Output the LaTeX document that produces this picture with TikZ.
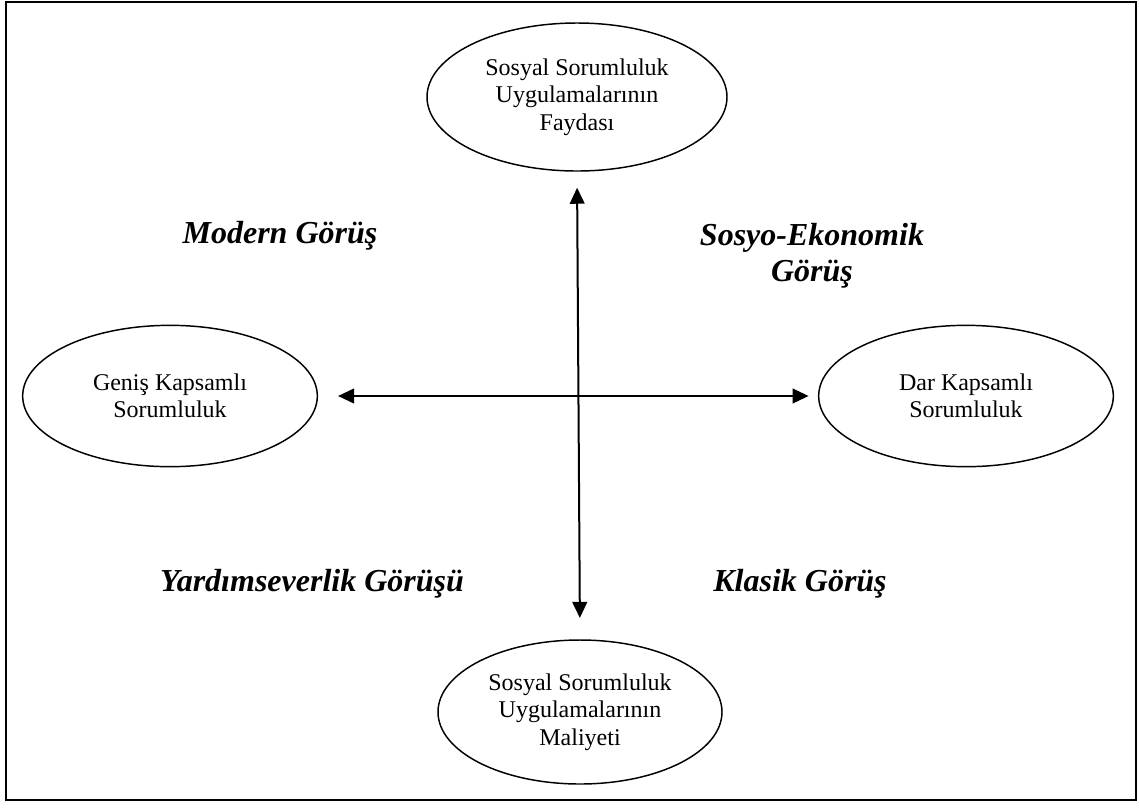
\documentclass[tikz,border=0pt]{standalone}
\usepackage{fontspec}
\setmainfont{Liberation Serif}
\usetikzlibrary{shapes.geometric,arrows.meta}
\begin{document}
\begin{tikzpicture}[x=0.75pt,y=-0.75pt,
  oval/.style={draw,ellipse,line width=1.1pt,inner sep=0pt,align=center,font=\fontsize{18}{20.5}\selectfont},
  view/.style={align=center,font=\fontsize{24}{27}\selectfont\bfseries\itshape},
  axis/.style={line width=1.5pt,{Triangle[length=12pt,width=11pt]}-{Triangle[length=12pt,width=11pt]}}]
\useasboundingbox (0,0) rectangle (1139,808);
\draw[line width=1.5pt] (6,2) rectangle (1136,800);
\node[oval,minimum width=225pt,minimum height=111pt] (fayda) at (577,97) {Sosyal Sorumluluk\\Uygulamalarının\\Faydası};
\node[oval,minimum width=213pt,minimum height=108pt] (maliyet) at (580,712) {Sosyal Sorumluluk\\Uygulamalarının\\Maliyeti};
\node[oval,minimum width=221pt,minimum height=106pt] (genis) at (170,396) {Geniş Kapsamlı\\Sorumluluk};
\node[oval,minimum width=221pt,minimum height=106pt] (dar) at (966,396) {Dar Kapsamlı\\Sorumluluk};
\draw[axis,shorten <=12pt,shorten >=16pt] (fayda.south) -- (maliyet.north);
\draw[axis,shorten <=15pt,shorten >=7pt] (genis.east) -- (dar.west);
\node[view] (modern) at (280,236) {Modern Görüş};
\node[view] (sosyo) at (812,256) {Sosyo-Ekonomik\\Görüş};
\node[view] (yardim) at (312,584) {Yardımseverlik Görüşü};
\node[view] (klasik) at (800,584) {Klasik Görüş};
\end{tikzpicture}
\end{document}
